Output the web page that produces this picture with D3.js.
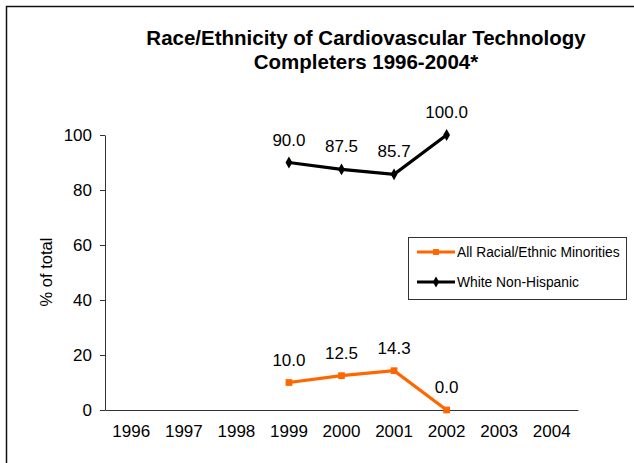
<!DOCTYPE html>
<html>
<head>
<meta charset="utf-8">
<script src="https://cdn.jsdelivr.net/npm/d3@7"></script>
<style>
  body { margin: 0; background: #fff; }
  svg { display: block; font-family: Arial, "Liberation Sans", sans-serif; }
</style>
</head>
<body>
<div id="chart"></div>
<script>
var years = ["1996", "1997", "1998", "1999", "2000", "2001", "2002", "2003", "2004"];
var minorities = [null, null, null, 10.0, 12.5, 14.3, 0.0, null, null];
var whiteNonHispanic = [null, null, null, 90.0, 87.5, 85.7, 100.0, null, null];
var yTicks = [0, 20, 40, 60, 80, 100];
var seriesNames = ["All Racial/Ethnic Minorities", "White Non-Hispanic"];
var seriesColors = ["#ff6600", "#000000"];

var width = 634,
    height = 463;

var svg = d3.select("#chart").append("svg")
    .attr("width", width)
    .attr("height", height);

// frame (only top and left edges show in the picture)
svg.append("rect")
    .attr("x", 6.5).attr("y", 6.5)
    .attr("width", 700).attr("height", 600)
    .attr("fill", "none")
    .attr("stroke", "#111")
    .attr("stroke-width", 1.5);

var title = svg.append("text")
    .attr("text-anchor", "middle")
    .attr("font-weight", "bold")
    .attr("font-size", "20.5px");
title.append("tspan").attr("x", 366).attr("y", 45).text("Race/Ethnicity of Cardiovascular Technology");
title.append("tspan").attr("x", 366).attr("y", 69).text("Completers 1996-2004*");

var x = d3.scaleBand()
    .domain(years)
    .range([105, 578]);

var y = d3.scaleLinear()
    .domain([0, 100])
    .range([410, 135]);

var xAxis = svg.append("g")
    .attr("transform", "translate(0,410)")
    .call(d3.axisBottom(x).tickSize(0).tickPadding(15));
xAxis.select(".domain").attr("stroke", "#333").attr("stroke-width", 1);
xAxis.selectAll("text").attr("font-size", "17px").attr("fill", "#000")
    .attr("font-family", "Arial, 'Liberation Sans', sans-serif");

var yAxis = svg.append("g")
    .attr("transform", "translate(105,0)")
    .call(d3.axisLeft(y).tickValues(yTicks).tickSize(5).tickSizeOuter(0).tickPadding(8));
yAxis.select(".domain").attr("stroke", "#333");
yAxis.selectAll("line").attr("stroke", "#333");
yAxis.selectAll("text").attr("font-size", "17px").attr("fill", "#000")
    .attr("font-family", "Arial, 'Liberation Sans', sans-serif");

svg.append("text")
    .attr("transform", "translate(52,272) rotate(-90)")
    .attr("text-anchor", "middle")
    .attr("font-size", "16.5px")
    .text("% of total");

var line = d3.line()
    .defined(d => d.v != null)
    .x(d => x(d.year) + x.bandwidth() / 2)
    .y(d => y(d.v));

function drawSeries(values, color, shape) {
    var pts = years.map((yr, i) => ({ year: yr, v: values[i] }));
    var g = svg.append("g");
    g.append("path")
        .datum(pts)
        .attr("fill", "none")
        .attr("stroke", color)
        .attr("stroke-width", 3.2)
        .attr("d", line);
    var real = pts.filter(d => d.v != null);
    g.selectAll("path.mk")
        .data(real)
        .enter().append("path")
        .attr("class", "mk")
        .attr("fill", color)
        .attr("transform", d => "translate(" + (x(d.year) + x.bandwidth() / 2) + "," + y(d.v) + ")")
        .attr("d", d3.symbol().type(shape).size(shape === d3.symbolSquare ? 45 : 40));
    g.selectAll("text")
        .data(real)
        .enter().append("text")
        .attr("x", d => x(d.year) + x.bandwidth() / 2)
        .attr("y", d => y(d.v) - 17)
        .attr("text-anchor", "middle")
        .attr("font-size", "17px")
        .text(d => d.v.toFixed(1));
}

drawSeries(minorities, seriesColors[0], d3.symbolSquare);
drawSeries(whiteNonHispanic, seriesColors[1], d3.symbolDiamond);

// legend
var legend = svg.append("g");
legend.append("rect")
    .attr("x", 408.5).attr("y", 237.5)
    .attr("width", 218).attr("height", 62)
    .attr("fill", "#fff")
    .attr("stroke", "#333")
    .attr("stroke-width", 1);
var shapes = [d3.symbolSquare, d3.symbolDiamond];
seriesNames.forEach(function (name, i) {
    var ly = 252 + i * 30;
    legend.append("line")
        .attr("x1", 417).attr("x2", 455)
        .attr("y1", ly).attr("y2", ly)
        .attr("stroke", seriesColors[i])
        .attr("stroke-width", 3);
    legend.append("path")
        .attr("transform", "translate(436," + ly + ")")
        .attr("fill", seriesColors[i])
        .attr("d", d3.symbol().type(shapes[i]).size(35));
    legend.append("text")
        .attr("x", 457).attr("y", ly + 5)
        .attr("font-size", "13.8px")
        .text(name);
});
</script>
</body>
</html>
